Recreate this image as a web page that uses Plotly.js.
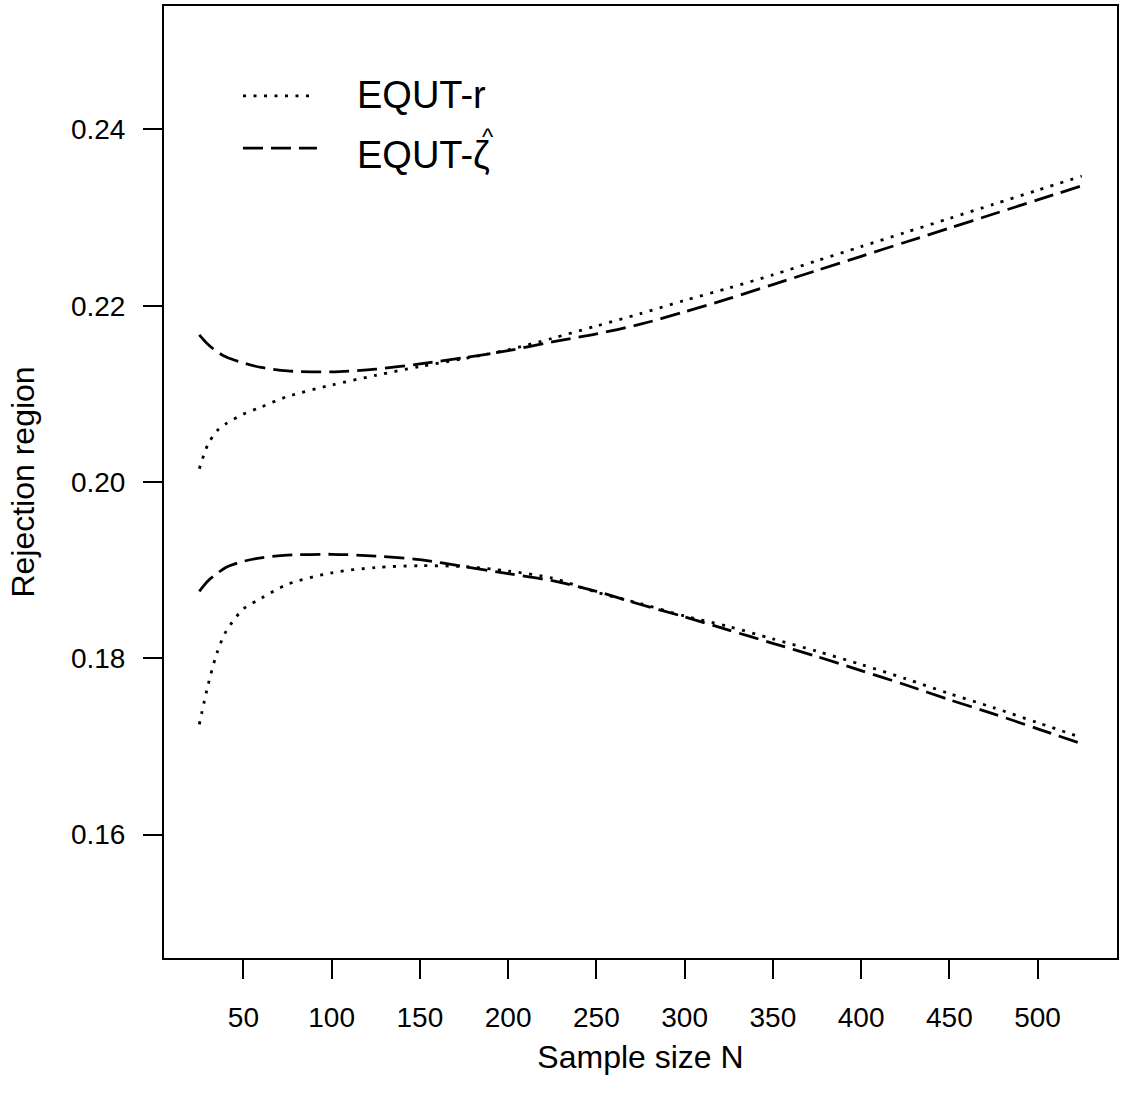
<!DOCTYPE html>
<html>
<head>
<meta charset="utf-8">
<script src="https://cdn.plot.ly/plotly-3.0.1.min.js"></script>
<style>html,body{margin:0;padding:0;background:#fff;}#chart{width:1125px;height:1106px;}</style>
</head>
<body>
<div id="chart"></div>
<script>
// Sample sizes
const sampleSizes = [25, 30, 35, 40, 50, 60, 75, 100, 125, 150, 175, 200, 225, 250, 275, 300, 325, 350, 375, 400, 425, 450, 475, 500, 525];

// EQUT-r (dotted): upper and lower bounds
const rUpper = [0.2015, 0.2043, 0.2058, 0.2066, 0.2077, 0.2085, 0.2097, 0.2110, 0.2121, 0.2131, 0.2140, 0.2150, 0.2163, 0.2177, 0.2191, 0.2206, 0.2220, 0.2235, 0.2251, 0.2267, 0.2283, 0.2299, 0.2315, 0.2331, 0.2347];
const rLower = [0.1725, 0.1770, 0.1806, 0.1830, 0.1856, 0.1868, 0.1884, 0.1897, 0.1903, 0.1905, 0.1904, 0.1899, 0.1891, 0.1875, 0.1862, 0.1848, 0.1836, 0.1822, 0.1808, 0.1793, 0.1777, 0.1760, 0.1744, 0.1727, 0.1710];

// EQUT-xi-hat (dashed): upper and lower bounds
const xiUpper = [0.2167, 0.2156, 0.2148, 0.2142, 0.2135, 0.2130, 0.2126, 0.2125, 0.2128, 0.2134, 0.2141, 0.2149, 0.2159, 0.2168, 0.2179, 0.2193, 0.2208, 0.2224, 0.2240, 0.2256, 0.2272, 0.2288, 0.2304, 0.2320, 0.2336];
const xiLower = [0.1876, 0.1888, 0.1896, 0.1903, 0.1910, 0.1914, 0.1917, 0.1918, 0.1916, 0.1912, 0.1904, 0.1896, 0.1888, 0.1876, 0.1861, 0.1847, 0.1832, 0.1817, 0.1802, 0.1786, 0.1770, 0.1753, 0.1737, 0.1720, 0.1703];

const xTicks = [50, 100, 150, 200, 250, 300, 350, 400, 450, 500];
const yTicks = [0.16, 0.18, 0.20, 0.22, 0.24];
const yTickLabels = ["0.16", "0.18", "0.20", "0.22", "0.24"];
const legendLabels = ["EQUT-r", "EQUT-ζ"];
const hatMark = "^";

const FONT = "Liberation Sans, Arial, Helvetica, sans-serif";
const dotted = {color: "#000", width: 2.8, dash: "3px,7.5px", shape: "spline", smoothing: 0.8};
const dashed = {color: "#000", width: 2.8, dash: "20px,8px", shape: "spline", smoothing: 0.8};

const traces = [
  {x: sampleSizes, y: rUpper, mode: "lines", line: dotted, name: legendLabels[0], showlegend: false},
  {x: sampleSizes, y: rLower, mode: "lines", line: dotted, name: legendLabels[0], showlegend: false},
  {x: sampleSizes, y: xiUpper, mode: "lines", line: dashed, name: legendLabels[1], showlegend: false},
  {x: sampleSizes, y: xiLower, mode: "lines", line: dashed, name: legendLabels[1], showlegend: false}
];

const layout = {
  width: 1125, height: 1106,
  margin: {l: 164, r: 8, t: 6, b: 148, pad: 0},
  paper_bgcolor: "#fff", plot_bgcolor: "#fff",
  font: {family: FONT, color: "#000", size: 28},
  showlegend: false,
  xaxis: {
    range: [5, 545], tickvals: xTicks, ticktext: xTicks.map(String),
    ticks: "outside", ticklen: 19, tickwidth: 2, tickcolor: "#000",
    showline: true, linecolor: "#000", linewidth: 2, mirror: true,
    showgrid: false, zeroline: false,
    tickfont: {size: 28, family: FONT}, ticklabelstandoff: 14,
    title: {text: "Sample size N", font: {size: 32, family: FONT}, standoff: 14}
  },
  yaxis: {
    range: [0.146, 0.254], tickvals: yTicks, ticktext: yTickLabels,
    ticks: "outside", ticklen: 19, tickwidth: 2, tickcolor: "#000",
    showline: true, linecolor: "#000", linewidth: 2, mirror: true,
    showgrid: false, zeroline: false,
    tickfont: {size: 28, family: FONT}, ticklabelstandoff: 12,
    title: {text: "Rejection region", font: {size: 32, family: FONT}, standoff: 27}
  },
  shapes: [
    {type: "line", xref: "paper", yref: "paper", x0: 0.0829, x1: 0.1563, y0: 0.9055, y1: 0.9055, line: {color: "#000", width: 2.8, dash: "3px,7.5px"}},
    {type: "line", xref: "paper", yref: "paper", x0: 0.0829, x1: 0.1605, y0: 0.8508, y1: 0.8508, line: {color: "#000", width: 2.8, dash: "20px,8px"}}
  ],
  annotations: [
    {xref: "paper", yref: "paper", x: 0.2004, y: 0.9065, xanchor: "left", yanchor: "middle", text: legendLabels[0], showarrow: false, font: {size: 38, family: FONT}},
    {xref: "paper", yref: "paper", x: 0.2004, y: 0.8435, xanchor: "left", yanchor: "middle", text: legendLabels[1], showarrow: false, font: {size: 38, family: FONT}},
    {xref: "paper", yref: "paper", x: 0.340, y: 0.8624, xanchor: "center", yanchor: "middle", text: hatMark, showarrow: false, font: {size: 24, family: FONT}, borderpad: 0}
  ]
};

Plotly.newPlot("chart", traces, layout, {displayModeBar: false, staticPlot: true});
</script>
</body>
</html>
